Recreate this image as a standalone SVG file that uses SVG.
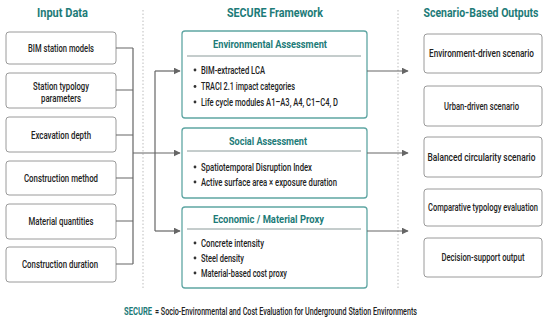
<svg xmlns="http://www.w3.org/2000/svg" width="550" height="322" viewBox="0 0 550 322">
<defs>
<style>
text{font-family:Roboto,"Liberation Sans",sans-serif;fill:#222;}
.hd{font-size:13.5px;font-weight:bold;fill:#1d7b78;text-anchor:middle;}
.st{font-size:11.5px;font-weight:bold;fill:#1d7b78;text-anchor:middle;}
.bx{fill:#fff;stroke:#9a9a9a;stroke-width:1;}
.fw{fill:#fff;stroke:#5fa6a3;stroke-width:1.3;}
.sep{stroke:#8a9a99;stroke-width:1;}
.t{font-size:11px;font-weight:500;text-anchor:middle;}
.o{font-size:10.5px;font-weight:500;text-anchor:middle;}
.b{font-size:10.5px;font-weight:500;}
.dot{fill:#333;}
.ln{fill:none;stroke:#666;stroke-width:1.2;}
.dt{stroke:#bdbdbd;stroke-width:1;stroke-dasharray:1.5 2;}
.cap{font-size:10px;font-weight:500;}
</style>
<marker id="ah" viewBox="0 0 10 10" refX="9" refY="5" markerWidth="7" markerHeight="7" markerUnits="userSpaceOnUse" orient="auto">
<path d="M0,0 L10,5 L0,10 z" fill="#666"/>
</marker>
</defs>
<rect width="550" height="322" fill="#fff"/>

<line class="dt" x1="143" y1="10" x2="143" y2="289"/>
<line class="dt" x1="398" y1="10" x2="398" y2="289"/>

<text class="hd" x="62.5" y="17" textLength="51" lengthAdjust="spacingAndGlyphs">Input Data</text>
<text class="hd" x="275" y="17" textLength="96" lengthAdjust="spacingAndGlyphs">SECURE Framework</text>
<text class="hd" x="481" y="17" textLength="115" lengthAdjust="spacingAndGlyphs">Scenario-Based Outputs</text>

<g id="in1"><rect class="bx" x="6" y="32" width="110" height="32" rx="3"/><text class="t" x="61" y="51.5" textLength="66" lengthAdjust="spacingAndGlyphs">BIM station models</text></g>
<g id="in2"><rect class="bx" x="6" y="73" width="110" height="35" rx="3"/><text class="t" x="61" y="89.5" textLength="56" lengthAdjust="spacingAndGlyphs">Station typology</text><text class="t" x="61" y="101.5" textLength="40" lengthAdjust="spacingAndGlyphs">parameters</text></g>
<g id="in3"><rect class="bx" x="6" y="117" width="110" height="35" rx="3"/><text class="t" x="61" y="138.5" textLength="60" lengthAdjust="spacingAndGlyphs">Excavation depth</text></g>
<g id="in4"><rect class="bx" x="6" y="161" width="110" height="34" rx="3"/><text class="t" x="61" y="181.5" textLength="74" lengthAdjust="spacingAndGlyphs">Construction method</text></g>
<g id="in5"><rect class="bx" x="6" y="204" width="110" height="35" rx="3"/><text class="t" x="61" y="225" textLength="65" lengthAdjust="spacingAndGlyphs">Material quantities</text></g>
<g id="in6"><rect class="bx" x="6" y="247" width="110" height="35" rx="3"/><text class="t" x="60" y="268" textLength="76" lengthAdjust="spacingAndGlyphs">Construction duration</text></g>

<g id="env"><rect class="fw" x="182" y="31" width="185" height="87" rx="3"/>
<text class="st" x="270" y="48" textLength="114" lengthAdjust="spacingAndGlyphs">Environmental Assessment</text>
<line class="sep" x1="187" y1="56" x2="361" y2="56"/>
<circle class="dot" cx="195" cy="70" r="1.4"/><text class="b" x="201" y="73.5" textLength="64" lengthAdjust="spacingAndGlyphs">BIM-extracted LCA</text>
<circle class="dot" cx="195" cy="86.5" r="1.4"/><text class="b" x="201" y="90" textLength="94" lengthAdjust="spacingAndGlyphs">TRACI 2.1 impact categories</text>
<circle class="dot" cx="195" cy="102" r="1.4"/><text class="b" x="201" y="105.5" textLength="137" lengthAdjust="spacingAndGlyphs">Life cycle modules A1–A3, A4, C1–C4, D</text>
</g>
<g id="soc"><rect class="fw" x="182" y="128" width="185" height="70" rx="3"/>
<text class="st" x="268" y="145" textLength="78" lengthAdjust="spacingAndGlyphs">Social Assessment</text>
<line class="sep" x1="187" y1="151" x2="361" y2="151"/>
<circle class="dot" cx="195" cy="167" r="1.4"/><text class="b" x="201" y="170.5" textLength="111" lengthAdjust="spacingAndGlyphs">Spatiotemporal Disruption Index</text>
<circle class="dot" cx="195" cy="182" r="1.4"/><text class="b" x="201" y="185.5" textLength="136" lengthAdjust="spacingAndGlyphs">Active surface area × exposure duration</text>
</g>
<g id="eco"><rect class="fw" x="182" y="207" width="185" height="81" rx="3"/>
<text class="st" x="268.5" y="223" textLength="111" lengthAdjust="spacingAndGlyphs">Economic / Material Proxy</text>
<line class="sep" x1="187" y1="229" x2="361" y2="229"/>
<circle class="dot" cx="195" cy="243" r="1.4"/><text class="b" x="201" y="246.5" textLength="63" lengthAdjust="spacingAndGlyphs">Concrete intensity</text>
<circle class="dot" cx="195" cy="258" r="1.4"/><text class="b" x="201" y="261.5" textLength="43" lengthAdjust="spacingAndGlyphs">Steel density</text>
<circle class="dot" cx="195" cy="273" r="1.4"/><text class="b" x="201" y="276.5" textLength="86" lengthAdjust="spacingAndGlyphs">Material-based cost proxy</text>
</g>

<g id="out1"><rect class="bx" x="424" y="34" width="118" height="39" rx="3"/><text class="o" x="481.5" y="57" textLength="105" lengthAdjust="spacingAndGlyphs">Environment-driven scenario</text></g>
<g id="out2"><rect class="bx" x="424" y="86" width="118" height="40" rx="3"/><text class="o" x="481.5" y="110" textLength="75" lengthAdjust="spacingAndGlyphs">Urban-driven scenario</text></g>
<g id="out3"><rect class="bx" x="424" y="137" width="118" height="40" rx="3"/><text class="o" x="481.5" y="160.5" textLength="108" lengthAdjust="spacingAndGlyphs">Balanced circularity scenario</text></g>
<g id="out4"><rect class="bx" x="424" y="189" width="118" height="37" rx="3"/><text class="o" x="483" y="211" textLength="110" lengthAdjust="spacingAndGlyphs">Comparative typology evaluation</text></g>
<g id="out5"><rect class="bx" x="424" y="238" width="118" height="39" rx="3"/><text class="o" x="483" y="261" textLength="83" lengthAdjust="spacingAndGlyphs">Decision-support output</text></g>

<g id="connectors">
<path class="ln" d="M116,48 H133 M116,90 H133 M116,135 H133 M116,178 H133 M116,221 H133 M116,264 H133 M133,48 V264"/>
<path class="ln" d="M155,71 V231"/>
<path class="ln" d="M133,153 H180" marker-end="url(#ah)"/>
<path class="ln" d="M155,71 H180" marker-end="url(#ah)"/>
<path class="ln" d="M155,231 H180" marker-end="url(#ah)"/>
<path class="ln" d="M367,71 H408" marker-end="url(#ah)"/>
<path class="ln" d="M367,153 H408" marker-end="url(#ah)"/>
<path class="ln" d="M367,231 H408" marker-end="url(#ah)"/>
</g>

<text class="cap" x="124" y="314.5" style="font-weight:bold;fill:#1d7b78" textLength="28" lengthAdjust="spacingAndGlyphs">SECURE</text>
<text class="cap" x="155" y="314.5" textLength="262" lengthAdjust="spacingAndGlyphs">= Socio-Environmental and Cost Evaluation for Underground Station Environments</text>
</svg>
